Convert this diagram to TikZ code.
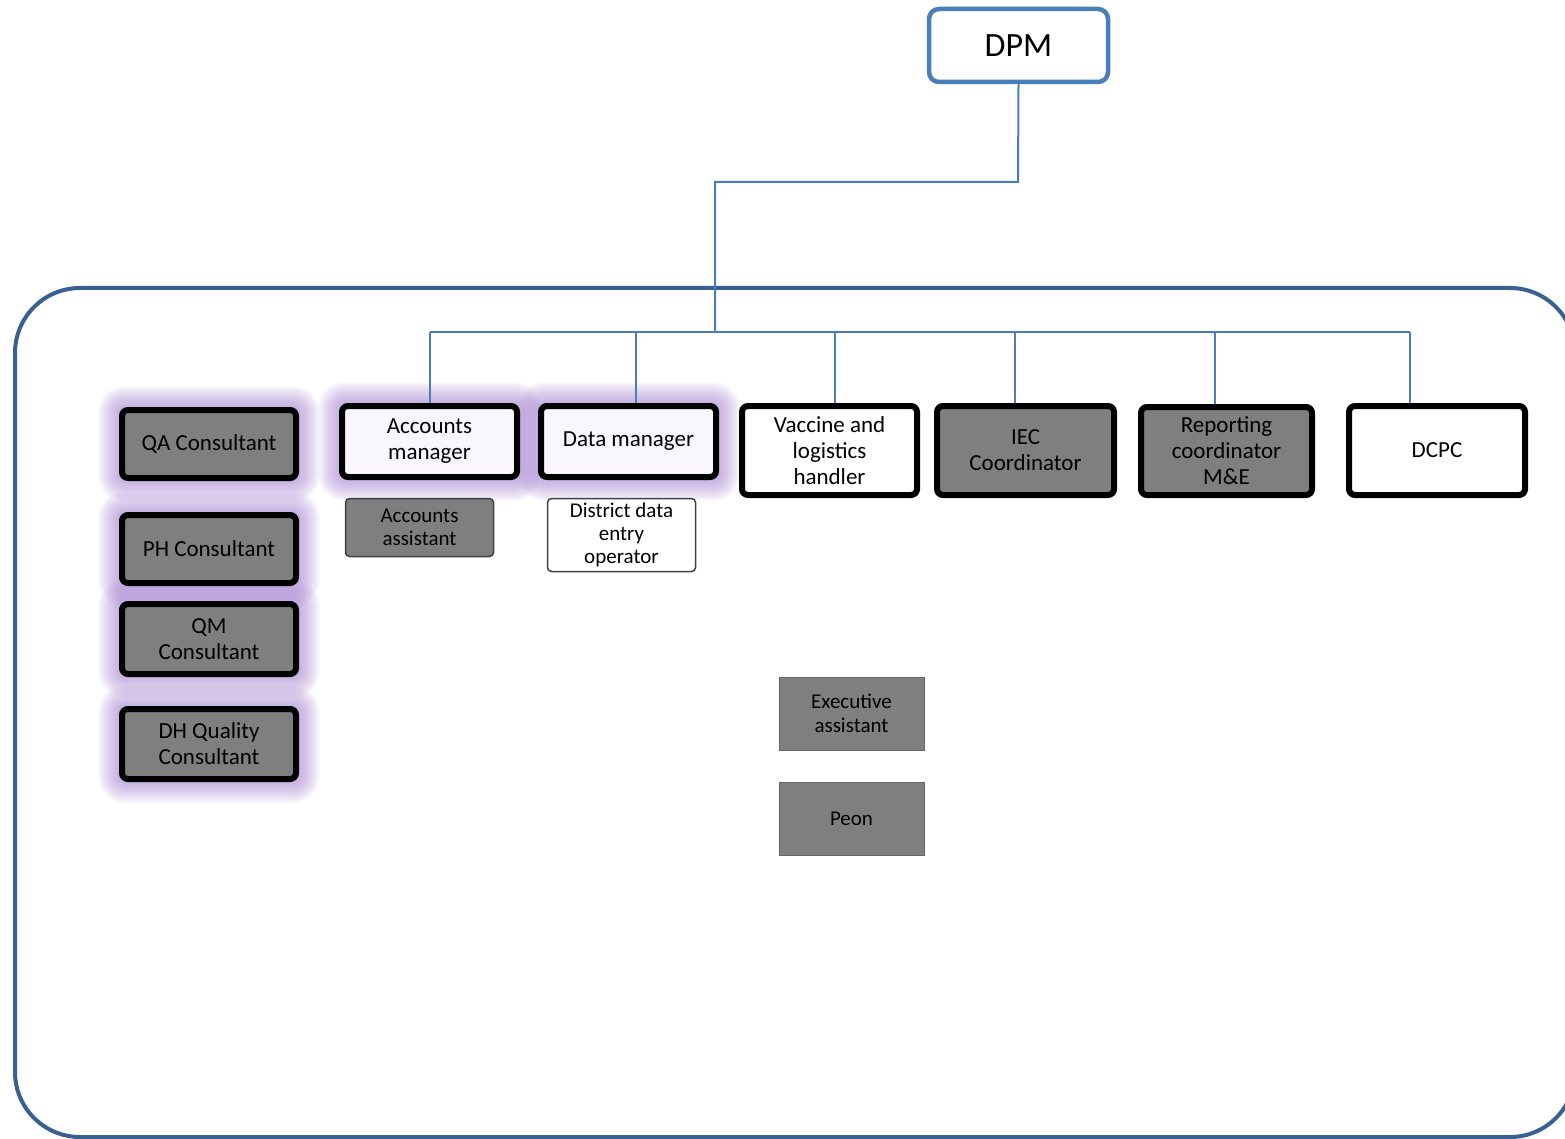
\documentclass[tikz,border=0pt]{standalone}
\usepackage{fontspec}
\setmainfont{Carlito}
\usetikzlibrary{backgrounds,calc}
\definecolor{linkblue}{RGB}{74,126,187}
\definecolor{framec}{RGB}{58,96,145}
\definecolor{boxgray}{RGB}{127,127,127}
\definecolor{glowc}{RGB}{165,130,212}
\definecolor{paleviolet}{RGB}{249,247,253}
\tikzset{
 mainbox/.style={draw=black, line width=6pt, rounded corners=6pt, align=center, font=\fontsize{23}{26}\selectfont, inner sep=0pt},
 graybox/.style={mainbox, fill=boxgray},
 whitebox/.style={mainbox, fill=white},
 palebox/.style={mainbox, fill=paleviolet},
 subbox/.style={draw=black!75, line width=1.5pt, rounded corners=4pt, align=center, font=\fontsize{21}{23}\selectfont, inner sep=0pt},
 plainbox/.style={draw=black!60, line width=1pt, fill=boxgray, align=center, font=\fontsize{21}{23.5}\selectfont, inner sep=0pt},
 link/.style={draw=linkblue, line width=2pt},
 frame/.style={draw=framec, line width=4pt, rounded corners=65pt},
 topbox/.style={draw=linkblue, line width=4.5pt, rounded corners=10pt, fill=white, font=\fontsize{34}{40}\selectfont, inner sep=0pt}
}
\begin{document}
\begin{tikzpicture}[x=1pt,y=-1pt]
\useasboundingbox (0,0) rectangle (1565,1139);
\draw[frame] (15,288) rectangle (1575,1137);

% top
\node[topbox, minimum width=179pt, minimum height=73pt] (dpm) at (1018.5,45.5) {DPM};

% left column
\node[graybox, minimum width=174pt, minimum height=68pt] (qa) at (209,444) {QA Consultant};
\node[graybox, minimum width=174pt, minimum height=68pt] (ph) at (209,549) {PH Consultant};
\node[graybox, minimum width=174pt, minimum height=70pt] (qm) at (209,639) {QM\\Consultant};
\node[graybox, minimum width=174pt, minimum height=70pt] (dh) at (209,744) {DH Quality\\Consultant};

% second level
\node[palebox, minimum width=175pt, minimum height=71pt] (am) at (429.5,441.5) {Accounts\\manager};
\node[palebox, minimum width=175pt, minimum height=71pt] (dm) at (628.5,441.5) {Data manager};
\node[whitebox, minimum width=175pt, minimum height=89pt] (vl) at (829.5,450.5) {Vaccine and\\logistics\\handler};
\node[graybox, minimum width=177pt, minimum height=89pt] (iec) at (1025.5,450.5) {IEC\\Coordinator};
\node[graybox, minimum width=171pt, minimum height=88pt] (rc) at (1226.5,451) {Reporting\\coordinator\\M\&E};
\node[whitebox, minimum width=176pt, minimum height=89pt] (dcpc) at (1437,450.5) {DCPC};

% sub boxes
\node[subbox, fill=boxgray, minimum width=148pt, minimum height=58pt] (aa) at (419.5,527.5) {Accounts\\assistant};
\node[subbox, fill=white, minimum width=148pt, minimum height=73pt] (dde) at (621.5,535) {District data\\entry\\operator};

% executive
\node[plainbox, minimum width=145pt, minimum height=73pt] (ea) at (851.5,713.5) {Executive\\assistant};
\node[plainbox, minimum width=145pt, minimum height=73pt] (peon) at (851.5,818.5) {Peon};

% connectors
\coordinate (k1) at (1018,182);
\coordinate (k2) at (715,182);
\coordinate (k3) at (715,332);
\coordinate (b1) at (430,332);
\coordinate (b2) at (636,332);
\coordinate (b3) at (835,332);
\coordinate (b4) at (1015,332);
\coordinate (b5) at (1215,332);
\coordinate (b6) at (1410,332);
\draw[link] (dpm.south) -- (k1) -- (k2) -- (k3);
\draw[link] (b1) -- (b6);
\draw[link] (b1) -- (b1 |- am.north);
\draw[link] (b2) -- (b2 |- dm.north);
\draw[link] (b3) -- (b3 |- vl.north);
\draw[link] (b4) -- (b4 |- iec.north);
\draw[link] (b5) -- (b5 |- rc.north);
\draw[link] (b6) -- (b6 |- dcpc.north);

% glow
\begin{scope}[on background layer]
\fill[white] (0,0) rectangle (1565,1139);
\foreach \n in {qa,ph,qm,dh,am,dm}{
  \foreach \d [evaluate=\d as \r using 6+\d] in {1.5,3,...,21}{
    \fill[glowc, opacity=0.055, rounded corners=\r pt] ($(\n.south west)+(-\d pt,-\d pt)$) rectangle ($(\n.north east)+(\d pt,\d pt)$);
  }
}
\end{scope}
\end{tikzpicture}
\end{document}
